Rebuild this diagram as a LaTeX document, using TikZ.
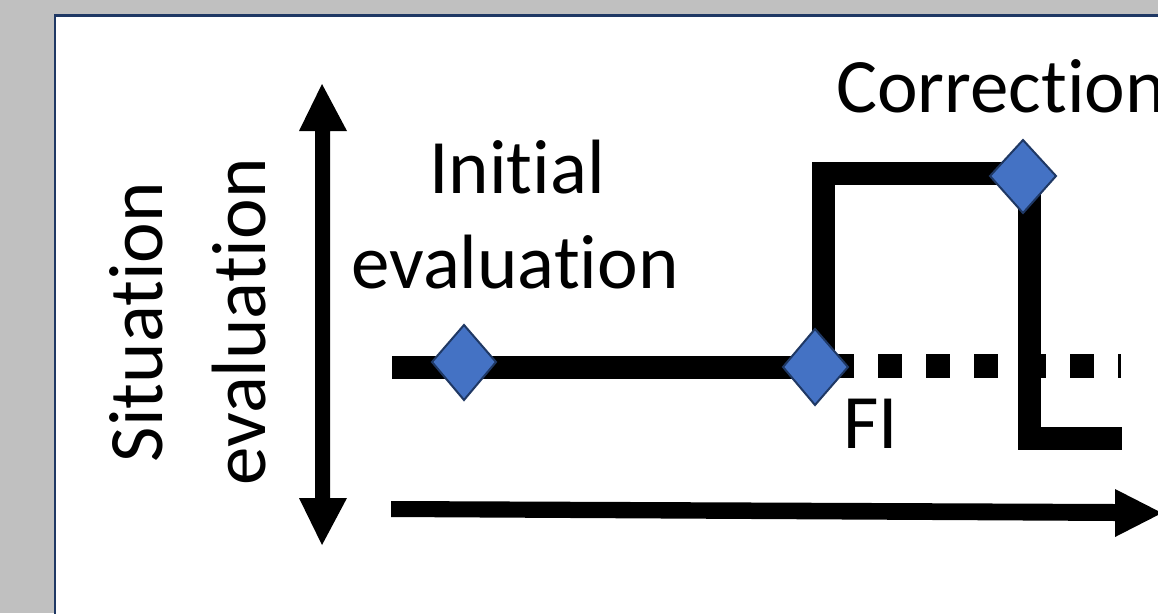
\documentclass[tikz,border=0pt]{standalone}
\usepackage{fontspec}
\setmainfont{Carlito}[RawFeature={-liga;-clig;-dlig;-calt}]
\definecolor{bggray}{HTML}{C0C0C0}
\definecolor{navy}{HTML}{1F3864}
\definecolor{dblue}{HTML}{4472C4}
\begin{document}
\begin{tikzpicture}[x=1pt,y=-1pt,
  bigtext/.style={font=\fontsize{77}{94}\selectfont, inner sep=0pt},
  thickline/.style={line width=23pt, line join=miter, line cap=butt, black},
  diam/.style={fill=dblue, draw=navy, line width=2pt, line join=miter}]
\useasboundingbox (0,0) rectangle (1158,613);
\clip (0,0) rectangle (1158,613);
\fill[bggray] (0,0) rectangle (1158,613);
\draw[navy, line width=2.5pt, fill=white] (55,15.5) rectangle (1200,660);
% vertical double arrow
\fill[black] (322,84) -- (347,131) -- (330,131) -- (330,498) -- (347,498) -- (322,545)
  -- (299,498) -- (315,498) -- (315,131) -- (299,131) -- cycle;
% horizontal arrow
\fill[black] (391,501) -- (1115,504) -- (1115,489) -- (1162,513) -- (1115,537) -- (1115,521) -- (391,517) -- cycle;
% lines
\draw[thickline] (392,367) -- (823,367);
\draw[black, line width=24pt, dash pattern=on 24pt off 24pt] (830,366) -- (1121,366);
\draw[thickline] (823,367) -- (823,173) -- (1029,173) -- (1029,438) -- (1122,438);
% diamonds
\draw[diam] (432,362) -- (464,325) -- (496,362) -- (464,400) -- cycle;
\draw[diam] (783,367) -- (815,329) -- (848,367) -- (815,405) -- cycle;
\draw[diam] (990,176) -- (1023,140) -- (1056,176) -- (1023,213) -- cycle;
% texts
\node[bigtext, rotate=90, anchor=base] (sit) at (162,322) {Situation};
\node[bigtext, rotate=90, anchor=base] (eva) at (265,322) {evaluation};
\node[bigtext, anchor=base] (ini) at (517,193) {Initial};
\node[bigtext, anchor=base] (ieva) at (515,288) {evaluation};
\node[bigtext, anchor=base west] (cor) at (836,112) {Correction};
\node[bigtext, anchor=base west] (fi) at (843,448) {FI};
\end{tikzpicture}
\end{document}
